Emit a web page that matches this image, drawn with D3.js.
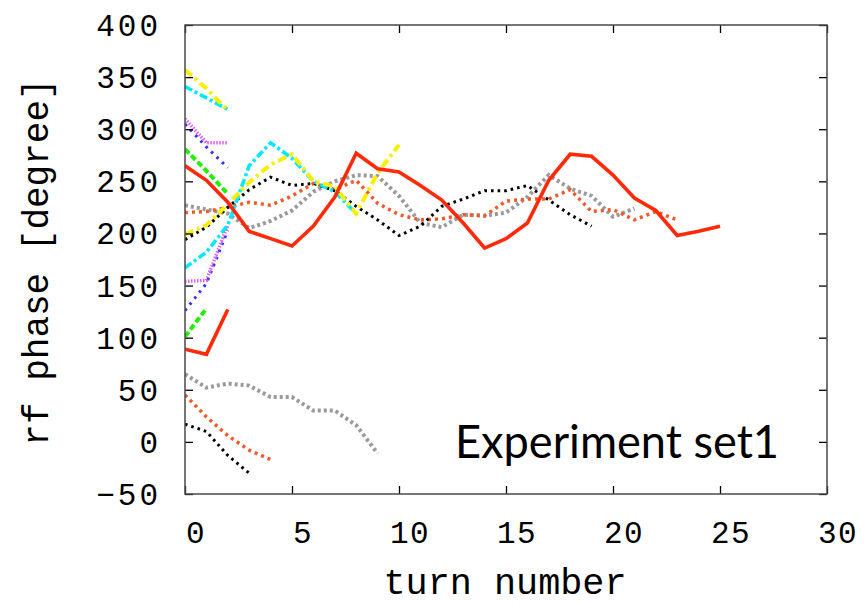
<!DOCTYPE html>
<html>
<head>
<meta charset="utf-8">
<script src="https://cdn.jsdelivr.net/npm/d3@7"></script>
<style>
  html, body { margin: 0; padding: 0; background: #fff; }
  svg { display: block; }
</style>
</head>
<body>
<svg id="chart" width="866" height="605"></svg>
<script>
// ---- data (value at turn = index) ----
const xTicks = [0, 5, 10, 15, 20, 25, 30];
const yTicks = [-50, 0, 50, 100, 150, 200, 250, 300, 350, 400];

const redLong     = [265, 251, 230, 202, 195, 188, 207, 235, 277, 262, 259, 246, 232, 210, 186, 195, 210, 251, 276, 274, 256, 234, 222, 198, 202, 207];
const redShort    = [89, 84, 127];
const orangeLong  = [220, 221, 225, 230, 227, 236, 248, 242, 251, 229, 218, 213, 214, 218, 217, 231, 233, 233, 242, 221, 223, 213, 221, 213];
const orangeLow   = [45, 24, 6, -8, -17];
const grayLong    = [227, 223, 219, 205, 212, 222, 240, 250, 256, 255, 236, 210, 206, 218, 217, 220, 235, 256, 243, 236, 216, 224];
const grayLow     = [65, 52, 56, 54, 43, 43, 30, 30, 16, -11];
const blackLong   = [194, 206, 225, 242, 254, 246, 248, 241, 226, 213, 198, 207, 226, 233, 241, 241, 246, 232, 218, 207];
const blackLow    = [17, 10, -13, -30];
const yellowLong  = [199, 208, 228, 249, 266, 276, 250, 245, 219, 258, 285];
const yellowTop   = [357, 339, 318];
const cyanLong    = [167, 182, 208, 265, 287, 272, 250, 240, 219];
const cyanTop     = [341, 330, 319];
const violetTop   = [310, 287, 287];
const violetLow   = [154, 155, 208];
const blueTop     = [305, 283, 263];
const blueLow     = [126, 152, 203];
const greenTop    = [281, 260, 238];
const greenLow    = [101, 128];

// ---- styles ----
const series = [
  { v: grayLow,    c: "#9a9a9a", w: 4,   d: "3,3" },
  { v: orangeLow,  c: "#f05a28", w: 3.5, d: "3,4" },
  { v: blackLow,   c: "#000000", w: 3,   d: "2.6,4" },
  { v: greenLow,   c: "#22ee00", w: 4,   d: "6,3" },
  { v: greenTop,   c: "#22ee00", w: 4,   d: "6,3" },
  { v: blueTop,    c: "#3030ff", w: 3,   d: "2.6,5" },
  { v: blueLow,    c: "#3030ff", w: 3,   d: "2.6,5" },
  { v: violetTop,  c: "#e060f0", w: 3.5, d: "1.5,1.5" },
  { v: violetLow,  c: "#e060f0", w: 3.5, d: "1.5,1.5" },
  { v: cyanTop,    c: "#00e8ff", w: 3.6, d: "8,3,3,3" },
  { v: yellowTop,  c: "#f8f000", w: 4,   d: "9,4,3,4" },
  { v: grayLong,   c: "#9a9a9a", w: 4,   d: "3,3" },
  { v: orangeLong, c: "#f05a28", w: 3.5, d: "3,4" },
  { v: blackLong,  c: "#000000", w: 3,   d: "2.6,4" },
  { v: cyanLong,   c: "#00e8ff", w: 3.6, d: "8,3,3,3" },
  { v: yellowLong, c: "#f8f000", w: 4,   d: "9,4,3,4" },
  { v: redShort,   c: "#ff2a0a", w: 3.6, d: null },
  { v: redLong,    c: "#ff2a0a", w: 3.6, d: null }
];

// ---- layout ----
const L = 185, R = 827, T = 25, B = 494;
const x = d3.scaleLinear().domain([0, 30]).range([L, R]);
const y = d3.scaleLinear().domain([-50, 400]).range([B, T]);

const svg = d3.select("#chart");
const monoFont = "'Liberation Mono', 'DejaVu Sans Mono', monospace";

// clip
svg.append("clipPath").attr("id", "plotclip")
  .append("rect").attr("x", L).attr("y", T).attr("width", R - L).attr("height", B - T);

// lines
const line = d3.line().x((d, i) => x(i)).y(d => y(d));
const g = svg.append("g").attr("clip-path", "url(#plotclip)");
series.forEach(s => {
  g.append("path")
    .attr("d", line(s.v))
    .attr("fill", "none")
    .attr("stroke", s.c)
    .attr("stroke-width", s.w)
    .attr("stroke-dasharray", s.d)
    .attr("stroke-linejoin", "miter");
});

// ticks (inward, mirrored) using d3 axes
const tickLen = 8;
const axB = svg.append("g").attr("transform", `translate(0,${B})`)
  .call(d3.axisTop(x).tickValues(xTicks).tickSize(tickLen).tickFormat(""));
const axT = svg.append("g").attr("transform", `translate(0,${T})`)
  .call(d3.axisBottom(x).tickValues(xTicks).tickSize(tickLen).tickFormat(""));
const axL = svg.append("g").attr("transform", `translate(${L},0)`)
  .call(d3.axisRight(y).tickValues(yTicks).tickSize(tickLen).tickFormat(""));
const axR = svg.append("g").attr("transform", `translate(${R},0)`)
  .call(d3.axisLeft(y).tickValues(yTicks).tickSize(tickLen).tickFormat(""));
[axB, axT, axL, axR].forEach(a => {
  a.select(".domain").remove();
  a.selectAll(".tick line").attr("stroke", "#000").attr("stroke-width", 1.3);
});

// frame
svg.append("rect").attr("x", L).attr("y", T).attr("width", R - L).attr("height", B - T)
  .attr("fill", "none").attr("stroke", "#4a4a4a").attr("stroke-width", 1.5);

// tick labels
svg.append("g").selectAll("text").data(xTicks).join("text")
  .attr("x", d => x(d) + 11)
  .attr("y", 543)
  .attr("text-anchor", "middle")
  .style("font-family", monoFont)
  .style("font-size", "31px")
  .style("letter-spacing", "1.5px")
  .attr("fill", "#000")
  .text(d => d);

svg.append("g").selectAll("text").data(yTicks).join("text")
  .attr("x", 161)
  .attr("y", d => y(d) + 11)
  .attr("text-anchor", "end")
  .style("font-family", monoFont)
  .style("font-size", "31px")
  .style("letter-spacing", "3px")
  .attr("fill", "#000")
  .text(d => d < 0 ? "\u2212" + Math.abs(d) : d);

// axis titles
svg.append("text")
  .attr("x", 505).attr("y", 594)
  .attr("text-anchor", "middle")
  .style("font-family", monoFont)
  .style("font-size", "36px")
  .attr("textLength", 243)
  .attr("lengthAdjust", "spacingAndGlyphs")
  .attr("fill", "#000")
  .text("turn number");

svg.append("text")
  .attr("transform", "translate(48,262) rotate(-90)")
  .attr("text-anchor", "middle")
  .style("font-family", monoFont)
  .style("font-size", "36px")
  .attr("fill", "#000")
  .text("rf phase [degree]");

// annotation
svg.append("text")
  .attr("x", 455).attr("y", 458)
  .style("font-family", "Lato, 'Open Sans', sans-serif")
  .style("font-size", "46px")
  .attr("textLength", 324)
  .attr("lengthAdjust", "spacingAndGlyphs")
  .attr("fill", "#000")
  .text("Experiment set1");
</script>
</body>
</html>
